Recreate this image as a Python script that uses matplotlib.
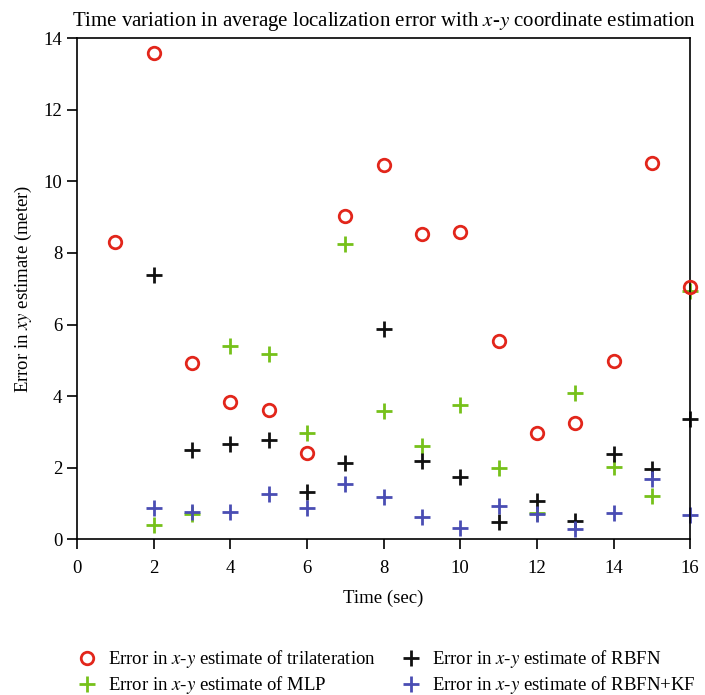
import matplotlib
matplotlib.use("Agg")
import matplotlib.pyplot as plt

plt.rcParams["font.family"] = "Liberation Serif"
plt.rcParams["mathtext.fontset"] = "stix"

time = [1, 2, 3, 4, 5, 6, 7, 8, 9, 10, 11, 12, 13, 14, 15, 16]
time_nn = time[1:]

tri = [8.32, 13.58, 4.94, 3.85, 3.6, 2.4, 9.02, 10.47, 8.53, 8.6,
       5.55, 2.97, 3.25, 4.98, 10.5, 7.05]
rbfn = [7.38, 2.49, 2.65, 2.77, 1.31, 2.12, 5.89, 2.18, 1.74,
        0.47, 1.06, 0.52, 2.37, 1.96, 3.35]
mlp = [0.39, 0.72, 5.39, 5.18, 2.97, 8.24, 3.58, 2.6, 3.76,
       1.99, 0.73, 4.08, 2.02, 1.22, 6.95]
rbfn_kf = [0.88, 0.75, 0.75, 1.26, 0.87, 1.54, 1.17, 0.61, 0.32,
           0.92, 0.7, 0.28, 0.73, 1.68, 0.68]

RED = "#e2261b"
GREEN = "#76c11a"
BLACK = "#111111"
BLUE = "#4a4db3"

fig = plt.figure(figsize=(7.05, 6.95), dpi=100)
ax = fig.add_axes([0.109, 0.224, 0.870, 0.721])

ax.plot(time, tri, "o", ls="none", ms=9, mfc="none", mec=RED, mew=2,
        label="Error in $x$-$y$ estimate of trilateration", clip_on=False, zorder=5)
ax.plot(time_nn, mlp, "+", ls="none", ms=11, mew=2, color=GREEN,
        label="Error in $x$-$y$ estimate of MLP", clip_on=False)
ax.plot(time_nn, rbfn, "+", ls="none", ms=11, mew=2, color=BLACK,
        label="Error in $x$-$y$ estimate of RBFN", clip_on=False)
ax.plot(time_nn, rbfn_kf, "+", ls="none", ms=11, mew=2, color=BLUE,
        label="Error in $x$-$y$ estimate of RBFN+KF", clip_on=False)

ax.set_xlim(0, 16)
ax.set_ylim(0, 14)
ax.set_xticks(range(0, 17, 2))
ax.set_yticks(range(0, 15, 2))
ax.tick_params(direction="out", length=7, width=1.2, labelsize=13.5,
               top=False, right=False)
ax.tick_params(axis="x", pad=8)
for s in ax.spines.values():
    s.set_linewidth(1.2)

ax.set_xlabel("Time (sec)", fontsize=13.5, labelpad=9)
ax.set_ylabel("Error in $xy$ estimate (meter)", fontsize=13.5, labelpad=7)
ax.set_title("Time variation in average localization error with $x$-$y$ coordinate estimation",
             fontsize=15, pad=9)

fig.legend(loc="lower left", bbox_to_anchor=(0.083, -0.026), ncol=2, frameon=False,
           fontsize=13.5, handlelength=1.2, handletextpad=0.55, columnspacing=1.25,
           labelspacing=0.2, numpoints=1)

fig.savefig("out.png", dpi=100)
